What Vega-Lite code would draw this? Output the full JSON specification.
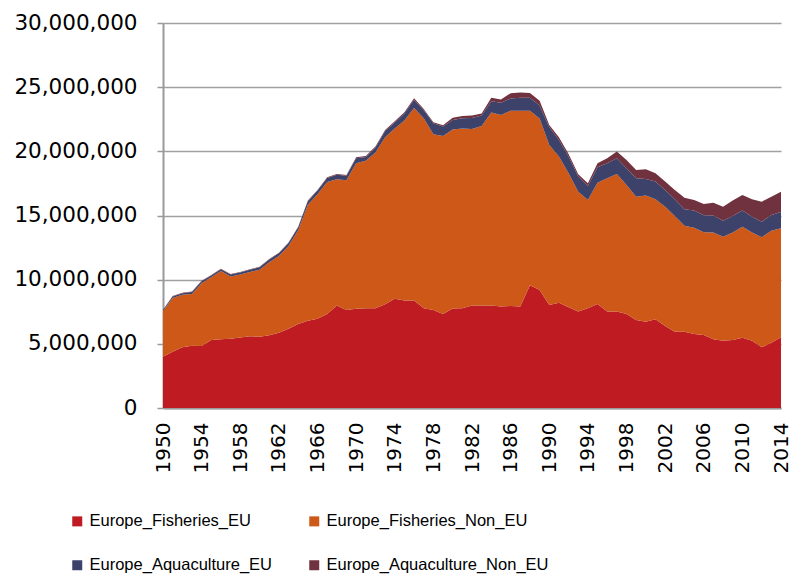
{
  "$schema": "https://vega.github.io/schema/vega-lite/v6.json",
  "width": 618,
  "height": 385,
  "autosize": {"type": "none"},
  "padding": {"left": 163, "top": 23, "right": 11, "bottom": 171},
  "config": {"view": {"stroke": null}, "font": "DejaVu Sans"},
  "data": {"values": [
    {"year": 1950, "Europe_Fisheries_EU": 4000000, "Europe_Fisheries_Non_EU": 3550000, "Europe_Aquaculture_EU": 80000, "Europe_Aquaculture_Non_EU": 30000},
    {"year": 1951, "Europe_Fisheries_EU": 4390000, "Europe_Fisheries_Non_EU": 4180000, "Europe_Aquaculture_EU": 120000, "Europe_Aquaculture_Non_EU": 40000},
    {"year": 1952, "Europe_Fisheries_EU": 4730000, "Europe_Fisheries_Non_EU": 4090000, "Europe_Aquaculture_EU": 130000, "Europe_Aquaculture_Non_EU": 40000},
    {"year": 1953, "Europe_Fisheries_EU": 4860000, "Europe_Fisheries_Non_EU": 4030000, "Europe_Aquaculture_EU": 140000, "Europe_Aquaculture_Non_EU": 40000},
    {"year": 1954, "Europe_Fisheries_EU": 4830000, "Europe_Fisheries_Non_EU": 4900000, "Europe_Aquaculture_EU": 150000, "Europe_Aquaculture_Non_EU": 40000},
    {"year": 1955, "Europe_Fisheries_EU": 5300000, "Europe_Fisheries_Non_EU": 4880000, "Europe_Aquaculture_EU": 150000, "Europe_Aquaculture_Non_EU": 40000},
    {"year": 1956, "Europe_Fisheries_EU": 5350000, "Europe_Fisheries_Non_EU": 5320000, "Europe_Aquaculture_EU": 150000, "Europe_Aquaculture_Non_EU": 40000},
    {"year": 1957, "Europe_Fisheries_EU": 5400000, "Europe_Fisheries_Non_EU": 4840000, "Europe_Aquaculture_EU": 160000, "Europe_Aquaculture_Non_EU": 40000},
    {"year": 1958, "Europe_Fisheries_EU": 5500000, "Europe_Fisheries_Non_EU": 4900000, "Europe_Aquaculture_EU": 160000, "Europe_Aquaculture_Non_EU": 40000},
    {"year": 1959, "Europe_Fisheries_EU": 5590000, "Europe_Fisheries_Non_EU": 5010000, "Europe_Aquaculture_EU": 170000, "Europe_Aquaculture_Non_EU": 40000},
    {"year": 1960, "Europe_Fisheries_EU": 5560000, "Europe_Fisheries_Non_EU": 5220000, "Europe_Aquaculture_EU": 180000, "Europe_Aquaculture_Non_EU": 40000},
    {"year": 1961, "Europe_Fisheries_EU": 5660000, "Europe_Fisheries_Non_EU": 5690000, "Europe_Aquaculture_EU": 220000, "Europe_Aquaculture_Non_EU": 40000},
    {"year": 1962, "Europe_Fisheries_EU": 5870000, "Europe_Fisheries_Non_EU": 5970000, "Europe_Aquaculture_EU": 220000, "Europe_Aquaculture_Non_EU": 40000},
    {"year": 1963, "Europe_Fisheries_EU": 6180000, "Europe_Fisheries_Non_EU": 6440000, "Europe_Aquaculture_EU": 240000, "Europe_Aquaculture_Non_EU": 40000},
    {"year": 1964, "Europe_Fisheries_EU": 6550000, "Europe_Fisheries_Non_EU": 7300000, "Europe_Aquaculture_EU": 240000, "Europe_Aquaculture_Non_EU": 40000},
    {"year": 1965, "Europe_Fisheries_EU": 6800000, "Europe_Fisheries_Non_EU": 9040000, "Europe_Aquaculture_EU": 280000, "Europe_Aquaculture_Non_EU": 40000},
    {"year": 1966, "Europe_Fisheries_EU": 6960000, "Europe_Fisheries_Non_EU": 9700000, "Europe_Aquaculture_EU": 280000, "Europe_Aquaculture_Non_EU": 50000},
    {"year": 1967, "Europe_Fisheries_EU": 7330000, "Europe_Fisheries_Non_EU": 10290000, "Europe_Aquaculture_EU": 300000, "Europe_Aquaculture_Non_EU": 60000},
    {"year": 1968, "Europe_Fisheries_EU": 7980000, "Europe_Fisheries_Non_EU": 9850000, "Europe_Aquaculture_EU": 340000, "Europe_Aquaculture_Non_EU": 70000},
    {"year": 1969, "Europe_Fisheries_EU": 7640000, "Europe_Fisheries_Non_EU": 10110000, "Europe_Aquaculture_EU": 340000, "Europe_Aquaculture_Non_EU": 70000},
    {"year": 1970, "Europe_Fisheries_EU": 7740000, "Europe_Fisheries_Non_EU": 11340000, "Europe_Aquaculture_EU": 380000, "Europe_Aquaculture_Non_EU": 80000},
    {"year": 1971, "Europe_Fisheries_EU": 7770000, "Europe_Fisheries_Non_EU": 11490000, "Europe_Aquaculture_EU": 300000, "Europe_Aquaculture_Non_EU": 80000},
    {"year": 1972, "Europe_Fisheries_EU": 7770000, "Europe_Fisheries_Non_EU": 12130000, "Europe_Aquaculture_EU": 380000, "Europe_Aquaculture_Non_EU": 90000},
    {"year": 1973, "Europe_Fisheries_EU": 8080000, "Europe_Fisheries_Non_EU": 13020000, "Europe_Aquaculture_EU": 480000, "Europe_Aquaculture_Non_EU": 90000},
    {"year": 1974, "Europe_Fisheries_EU": 8520000, "Europe_Fisheries_Non_EU": 13250000, "Europe_Aquaculture_EU": 480000, "Europe_Aquaculture_Non_EU": 100000},
    {"year": 1975, "Europe_Fisheries_EU": 8370000, "Europe_Fisheries_Non_EU": 14030000, "Europe_Aquaculture_EU": 550000, "Europe_Aquaculture_Non_EU": 100000},
    {"year": 1976, "Europe_Fisheries_EU": 8370000, "Europe_Fisheries_Non_EU": 15010000, "Europe_Aquaculture_EU": 640000, "Europe_Aquaculture_Non_EU": 120000},
    {"year": 1977, "Europe_Fisheries_EU": 7770000, "Europe_Fisheries_Non_EU": 14810000, "Europe_Aquaculture_EU": 620000, "Europe_Aquaculture_Non_EU": 100000},
    {"year": 1978, "Europe_Fisheries_EU": 7640000, "Europe_Fisheries_Non_EU": 13690000, "Europe_Aquaculture_EU": 860000, "Europe_Aquaculture_Non_EU": 80000},
    {"year": 1979, "Europe_Fisheries_EU": 7330000, "Europe_Fisheries_Non_EU": 13870000, "Europe_Aquaculture_EU": 730000, "Europe_Aquaculture_Non_EU": 110000},
    {"year": 1980, "Europe_Fisheries_EU": 7750000, "Europe_Fisheries_Non_EU": 13950000, "Europe_Aquaculture_EU": 750000, "Europe_Aquaculture_Non_EU": 170000},
    {"year": 1981, "Europe_Fisheries_EU": 7780000, "Europe_Fisheries_Non_EU": 13990000, "Europe_Aquaculture_EU": 810000, "Europe_Aquaculture_Non_EU": 180000},
    {"year": 1982, "Europe_Fisheries_EU": 7980000, "Europe_Fisheries_Non_EU": 13770000, "Europe_Aquaculture_EU": 850000, "Europe_Aquaculture_Non_EU": 200000},
    {"year": 1983, "Europe_Fisheries_EU": 7980000, "Europe_Fisheries_Non_EU": 14000000, "Europe_Aquaculture_EU": 820000, "Europe_Aquaculture_Non_EU": 150000},
    {"year": 1984, "Europe_Fisheries_EU": 7980000, "Europe_Fisheries_Non_EU": 15040000, "Europe_Aquaculture_EU": 880000, "Europe_Aquaculture_Non_EU": 270000},
    {"year": 1985, "Europe_Fisheries_EU": 7900000, "Europe_Fisheries_Non_EU": 14940000, "Europe_Aquaculture_EU": 940000, "Europe_Aquaculture_Non_EU": 250000},
    {"year": 1986, "Europe_Fisheries_EU": 7950000, "Europe_Fisheries_Non_EU": 15220000, "Europe_Aquaculture_EU": 950000, "Europe_Aquaculture_Non_EU": 410000},
    {"year": 1987, "Europe_Fisheries_EU": 7900000, "Europe_Fisheries_Non_EU": 15270000, "Europe_Aquaculture_EU": 1000000, "Europe_Aquaculture_Non_EU": 410000},
    {"year": 1988, "Europe_Fisheries_EU": 9560000, "Europe_Fisheries_Non_EU": 13610000, "Europe_Aquaculture_EU": 1000000, "Europe_Aquaculture_Non_EU": 380000},
    {"year": 1989, "Europe_Fisheries_EU": 9200000, "Europe_Fisheries_Non_EU": 13350000, "Europe_Aquaculture_EU": 1030000, "Europe_Aquaculture_Non_EU": 370000},
    {"year": 1990, "Europe_Fisheries_EU": 8030000, "Europe_Fisheries_Non_EU": 12470000, "Europe_Aquaculture_EU": 1380000, "Europe_Aquaculture_Non_EU": 180000},
    {"year": 1991, "Europe_Fisheries_EU": 8210000, "Europe_Fisheries_Non_EU": 11380000, "Europe_Aquaculture_EU": 1300000, "Europe_Aquaculture_Non_EU": 210000},
    {"year": 1992, "Europe_Fisheries_EU": 7850000, "Europe_Fisheries_Non_EU": 10440000, "Europe_Aquaculture_EU": 1300000, "Europe_Aquaculture_Non_EU": 210000},
    {"year": 1993, "Europe_Fisheries_EU": 7510000, "Europe_Fisheries_Non_EU": 9350000, "Europe_Aquaculture_EU": 1170000, "Europe_Aquaculture_Non_EU": 180000},
    {"year": 1994, "Europe_Fisheries_EU": 7770000, "Europe_Fisheries_Non_EU": 8440000, "Europe_Aquaculture_EU": 1090000, "Europe_Aquaculture_Non_EU": 210000},
    {"year": 1995, "Europe_Fisheries_EU": 8110000, "Europe_Fisheries_Non_EU": 9450000, "Europe_Aquaculture_EU": 1200000, "Europe_Aquaculture_Non_EU": 310000},
    {"year": 1996, "Europe_Fisheries_EU": 7510000, "Europe_Fisheries_Non_EU": 10390000, "Europe_Aquaculture_EU": 1170000, "Europe_Aquaculture_Non_EU": 390000},
    {"year": 1997, "Europe_Fisheries_EU": 7510000, "Europe_Fisheries_Non_EU": 10730000, "Europe_Aquaculture_EU": 1220000, "Europe_Aquaculture_Non_EU": 520000},
    {"year": 1998, "Europe_Fisheries_EU": 7330000, "Europe_Fisheries_Non_EU": 10050000, "Europe_Aquaculture_EU": 1300000, "Europe_Aquaculture_Non_EU": 650000},
    {"year": 1999, "Europe_Fisheries_EU": 6860000, "Europe_Fisheries_Non_EU": 9610000, "Europe_Aquaculture_EU": 1430000, "Europe_Aquaculture_Non_EU": 650000},
    {"year": 2000, "Europe_Fisheries_EU": 6730000, "Europe_Fisheries_Non_EU": 9820000, "Europe_Aquaculture_EU": 1300000, "Europe_Aquaculture_Non_EU": 750000},
    {"year": 2001, "Europe_Fisheries_EU": 6910000, "Europe_Fisheries_Non_EU": 9360000, "Europe_Aquaculture_EU": 1370000, "Europe_Aquaculture_Non_EU": 650000},
    {"year": 2002, "Europe_Fisheries_EU": 6390000, "Europe_Fisheries_Non_EU": 9300000, "Europe_Aquaculture_EU": 1300000, "Europe_Aquaculture_Non_EU": 650000},
    {"year": 2003, "Europe_Fisheries_EU": 5950000, "Europe_Fisheries_Non_EU": 9010000, "Europe_Aquaculture_EU": 1310000, "Europe_Aquaculture_Non_EU": 720000},
    {"year": 2004, "Europe_Fisheries_EU": 5950000, "Europe_Fisheries_Non_EU": 8260000, "Europe_Aquaculture_EU": 1280000, "Europe_Aquaculture_Non_EU": 900000},
    {"year": 2005, "Europe_Fisheries_EU": 5770000, "Europe_Fisheries_Non_EU": 8280000, "Europe_Aquaculture_EU": 1330000, "Europe_Aquaculture_Non_EU": 830000},
    {"year": 2006, "Europe_Fisheries_EU": 5690000, "Europe_Fisheries_Non_EU": 8000000, "Europe_Aquaculture_EU": 1330000, "Europe_Aquaculture_Non_EU": 880000},
    {"year": 2007, "Europe_Fisheries_EU": 5350000, "Europe_Fisheries_Non_EU": 8320000, "Europe_Aquaculture_EU": 1330000, "Europe_Aquaculture_Non_EU": 1000000},
    {"year": 2008, "Europe_Fisheries_EU": 5250000, "Europe_Fisheries_Non_EU": 8100000, "Europe_Aquaculture_EU": 1250000, "Europe_Aquaculture_Non_EU": 1090000},
    {"year": 2009, "Europe_Fisheries_EU": 5300000, "Europe_Fisheries_Non_EU": 8370000, "Europe_Aquaculture_EU": 1290000, "Europe_Aquaculture_Non_EU": 1200000},
    {"year": 2010, "Europe_Fisheries_EU": 5480000, "Europe_Fisheries_Non_EU": 8650000, "Europe_Aquaculture_EU": 1250000, "Europe_Aquaculture_Non_EU": 1220000},
    {"year": 2011, "Europe_Fisheries_EU": 5250000, "Europe_Fisheries_Non_EU": 8420000, "Europe_Aquaculture_EU": 1240000, "Europe_Aquaculture_Non_EU": 1360000},
    {"year": 2012, "Europe_Fisheries_EU": 4730000, "Europe_Fisheries_Non_EU": 8570000, "Europe_Aquaculture_EU": 1220000, "Europe_Aquaculture_Non_EU": 1560000},
    {"year": 2013, "Europe_Fisheries_EU": 5090000, "Europe_Fisheries_Non_EU": 8730000, "Europe_Aquaculture_EU": 1220000, "Europe_Aquaculture_Non_EU": 1430000},
    {"year": 2014, "Europe_Fisheries_EU": 5510000, "Europe_Fisheries_Non_EU": 8490000, "Europe_Aquaculture_EU": 1280000, "Europe_Aquaculture_Non_EU": 1580000}
  ]},
  "transform": [
    {"fold": ["Europe_Fisheries_EU", "Europe_Fisheries_Non_EU", "Europe_Aquaculture_EU", "Europe_Aquaculture_Non_EU"], "as": ["series", "value"]},
    {"calculate": "indexof(['Europe_Fisheries_EU','Europe_Fisheries_Non_EU','Europe_Aquaculture_EU','Europe_Aquaculture_Non_EU'], datum.series)", "as": "k"}
  ],
  "mark": {"type": "area", "interpolate": "linear"},
  "encoding": {
    "x": {
      "field": "year", "type": "quantitative",
      "scale": {"domain": [1950, 2014], "nice": false, "zero": false},
      "axis": {
        "title": null,
        "values": [1950, 1954, 1958, 1962, 1966, 1970, 1974, 1978, 1982, 1986, 1990, 1994, 1998, 2002, 2006, 2010, 2014],
        "format": "d", "labelAngle": -90, "labelFontSize": 20, "labelColor": "#000000",
        "labelPadding": 14, "ticks": false, "grid": false,
        "domainColor": "#9A9A9A", "domainWidth": 2, "labelOverlap": false, "labelFlush": false
      }
    },
    "y": {
      "field": "value", "type": "quantitative", "stack": "zero",
      "scale": {"domain": [0, 30000000], "nice": false},
      "axis": {
        "title": null,
        "values": [0, 5000000, 10000000, 15000000, 20000000, 25000000, 30000000],
        "format": ",d", "labelFontSize": 21.5, "labelColor": "#000000", "labelPadding": 20,
        "tickSize": 6, "tickColor": "#9A9A9A", "tickWidth": 1.5,
        "gridColor": "#A0A0A0", "gridWidth": 1.6,
        "domainColor": "#9A9A9A", "domainWidth": 2
      }
    },
    "color": {
      "field": "series", "type": "nominal",
      "scale": {
        "domain": ["Europe_Fisheries_EU", "Europe_Fisheries_Non_EU", "Europe_Aquaculture_EU", "Europe_Aquaculture_Non_EU"],
        "range": ["#BE1B23", "#CD5818", "#3D426B", "#70323E"]
      },
      "legend": {
        "title": null, "orient": "none", "legendX": -94, "legendY": 490, "direction": "horizontal",
        "columns": 2, "columnPadding": 33, "rowPadding": 27, "gridAlign": "each",
        "symbolType": "square", "symbolSize": 100, "symbolStrokeWidth": 0, "symbolOffset": 0,
        "labelFont": "Liberation Sans", "labelFontSize": 16.5, "labelColor": "#000000", "labelOffset": 4, "labelLimit": 300
      }
    },
    "order": {"field": "k", "type": "quantitative"}
  }
}
